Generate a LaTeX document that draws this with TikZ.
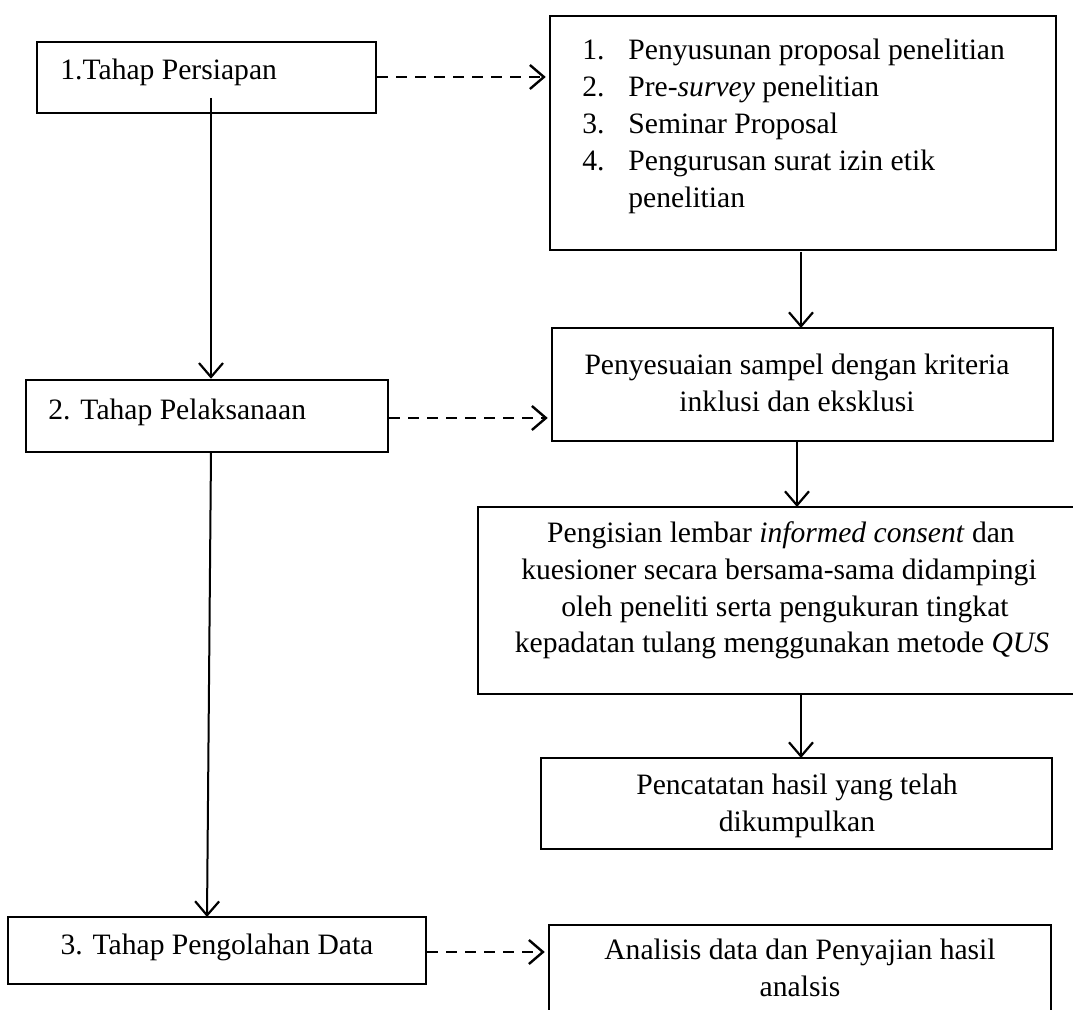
\documentclass[tikz,border=0pt]{standalone}
\usepackage{fontspec}
\setmainfont{Liberation Serif}
\usetikzlibrary{arrows.meta,fit}
\begin{document}
\begin{tikzpicture}[x=0.5pt,y=-0.5pt,
  box/.style={draw,line width=1.25pt,inner sep=0pt,fit={#1}},
  txt/.style={inner sep=0pt,font=\fontsize{14.8}{18.5}\selectfont},
  solidarrow/.style={line width=1pt,-{Straight Barb[length=7pt,width=12pt,line width=1.1pt]}},
  dasharrow/.style={line width=1.2pt,dash pattern=on 5.5pt off 4pt,-{Straight Barb[length=7pt,width=12pt,line width=1.2pt,sep=1.5pt]}}
]
\useasboundingbox (0,0) rectangle (1073,1010);
\clip (0,0) rectangle (1073,1010);

% boxes
\node[box={(37,42) (376,113)}] (p1) {};
\node[box={(550,16) (1056,250)}] (a) {};
\node[box={(26,380) (388,452)}] (p2) {};
\node[box={(552,328) (1053,441)}] (b) {};
\node[box={(478,507) (1090,694)}] (c) {};
\node[box={(541,758) (1052,849)}] (d) {};
\node[box={(8,917) (426,984)}] (p3) {};
\node[box={(549,925) (1051,1040)}] (e) {};

% texts
\node[txt,anchor=base west] (t1) at (60,80) {1.Tahap Persiapan};
\node[txt,anchor=base west] (t2) at (48,420) {2. Tahap Pelaksanaan};
\node[txt,anchor=base] (t3) at (217,955) {3. Tahap Pengolahan Data};

\node[txt,anchor=base west] (n1) at (582,60) {1.};
\node[txt,anchor=base west] (l1) at (628,60) {Penyusunan proposal penelitian};
\node[txt,anchor=base west] (n2) at (582,97) {2.};
\node[txt,anchor=base west] (l2) at (628,97) {Pre-\textit{survey} penelitian};
\node[txt,anchor=base west] (n3) at (582,134) {3.};
\node[txt,anchor=base west] (l3) at (628,134) {Seminar Proposal};
\node[txt,anchor=base west] (n4) at (582,171) {4.};
\node[txt,anchor=base west] (l4) at (628,171) {Pengurusan surat izin etik};
\node[txt,anchor=base west] (l5) at (628,208) {penelitian};

\node[txt,anchor=base] (b1) at (797,375) {Penyesuaian sampel dengan kriteria};
\node[txt,anchor=base] (b2) at (797,412) {inklusi dan eksklusi};

\node[txt,anchor=base] (c1) at (781,543) {Pengisian lembar \textit{informed consent} dan};
\node[txt,anchor=base] (c2) at (779,580) {kuesioner secara bersama-sama didampingi};
\node[txt,anchor=base] (c3) at (785,617) {oleh peneliti serta pengukuran tingkat};
\node[txt,anchor=base] (c4) at (782,653) {kepadatan tulang menggunakan metode \textit{QUS}};

\node[txt,anchor=base] (d1) at (797,795) {Pencatatan hasil yang telah};
\node[txt,anchor=base] (d2) at (797,832) {dikumpulkan};

\node[txt,anchor=base] (e1) at (800,960) {Analisis data dan Penyajian hasil};
\node[txt,anchor=base] (e2) at (800,997) {analsis};

% connector ends
\coordinate (s1) at (211,98);
\coordinate (s2) at (211,452);
\coordinate (s3) at (207,917);

% solid arrows
\draw[solidarrow] (s1) -- (s1 |- p2.north);
\draw[solidarrow] (s2) -- (s3);
\draw[solidarrow] (801,252) -- (801,328);
\draw[solidarrow] (797,441) -- (797,507);
\draw[solidarrow] (801,694) -- (801,758);

% dashed arrows
\draw[dasharrow] (p1.east |- 0,77) -- (a.west |- 0,77);
\draw[dasharrow] (p2.east |- 0,418) -- (b.west |- 0,418);
\draw[dasharrow] (p3.east |- 0,952) -- (e.west |- 0,952);
\end{tikzpicture}
\end{document}
